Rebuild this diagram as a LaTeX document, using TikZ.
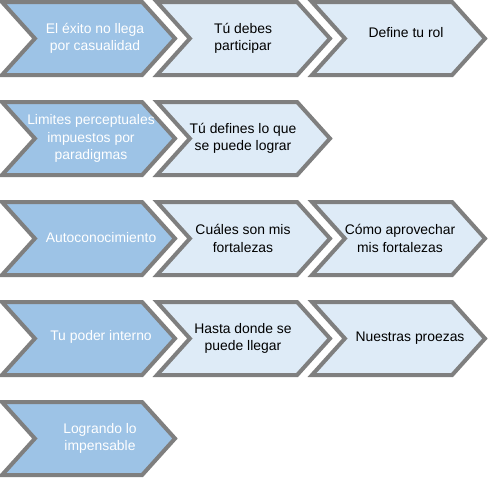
\documentclass[tikz,border=0pt]{standalone}
\usepackage{fontspec}
\setmainfont{Liberation Sans}
\usetikzlibrary{shapes.symbols}
\definecolor{chevgray}{HTML}{7F7F7F}
\definecolor{darkfill}{HTML}{9DC3E6}
\definecolor{lightfill}{HTML}{DEEBF7}
\tikzset{
  chev/.style={signal, signal to=east, signal from=west, draw=chevgray,
    line width=4pt, minimum width=173pt, minimum height=73pt,
    inner sep=0pt, outer sep=0pt, signal pointer angle=96},
  chevdark/.style={chev, fill=darkfill},
  chevlight/.style={chev, fill=lightfill},
  txt/.style={align=center, font=\fontsize{13.9}{17.5}\selectfont, inner sep=0pt},
  txtdark/.style={txt, text=white},
  txtlight/.style={txt, text=black}
}
\begin{document}
\begin{tikzpicture}[x=1pt,y=-1pt]
\useasboundingbox (0,0) rectangle (489,477);
% row 1
\node[chevdark]  (c11) at (88.5,38.5) {};
\node[chevlight] (c12) at (243.5,38.5) {};
\node[chevlight] (c13) at (398.5,38.5) {};
% row 2
\node[chevdark]  (c21) at (88.5,138.5) {};
\node[chevlight] (c22) at (243.5,138.5) {};
% row 3
\node[chevdark]  (c31) at (88.5,238.5) {};
\node[chevlight] (c32) at (243.5,238.5) {};
\node[chevlight] (c33) at (398.5,238.5) {};
% row 4
\node[chevdark]  (c41) at (88.5,338.5) {};
\node[chevlight] (c42) at (243.5,338.5) {};
\node[chevlight] (c43) at (398.5,338.5) {};
% row 5
\node[chevdark]  (c51) at (88.5,438.5) {};
% texts
\node[txtdark]  (t11) at (95,38.5)  {El éxito no llega\\por casualidad};
\node[txtlight] (t12) at (243,38.5) {Tú debes\\participar};
\node[txtlight] (t13) at (406,33)   {Define tu rol};
\node[txtdark]  (t21) at (91,138.5) {Limites perceptuales\\impuestos por\\paradigmas};
\node[txtlight] (t22) at (243,138.5) {Tú defines lo que\\se puede lograr};
\node[txtdark]  (t31) at (101,238)  {Autoconocimiento};
\node[txtlight] (t32) at (243,238.5) {Cuáles son mis\\fortalezas};
\node[txtlight] (t33) at (400,238.5) {Cómo aprovechar\\mis fortalezas};
\node[txtdark]  (t41) at (101,337)  {Tu poder interno};
\node[txtlight] (t42) at (243,338.5) {Hasta donde se\\puede llegar};
\node[txtlight] (t43) at (410,338)  {Nuestras proezas};
\node[txtdark]  (t51) at (100,438.5) {Logrando lo\\impensable};
\end{tikzpicture}
\end{document}
